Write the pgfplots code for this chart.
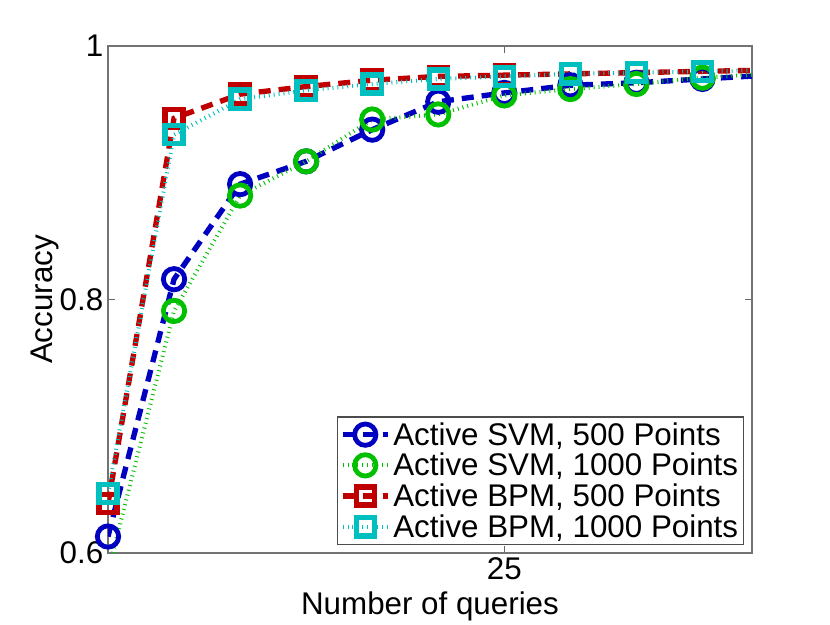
\documentclass[border=0pt]{standalone}
\usepackage{pgfplots}
\pgfplotsset{compat=1.18}
\usepackage{fontspec}
\setmainfont{Liberation Sans}
\definecolor{cB}{RGB}{0,0,192}
\definecolor{cG}{RGB}{0,192,0}
\definecolor{cR}{RGB}{192,0,0}
\definecolor{cC}{RGB}{0,191,191}
\begin{document}
\begin{tikzpicture}
\useasboundingbox (-81pt,-53.25pt) rectangle (541.5pt,414.75pt);
\begin{axis}[
  at={(0,0)}, anchor=south west,
  scale only axis, width=483pt, height=380.25pt,
  xmin=13, xmax=32.5, ymin=0.6, ymax=1,
  xtick={25}, ytick={0.6,0.8,1},
  yticklabels={0.6,0.8,1},
  tick align=inside, tick pos=both,
  major tick length=5.5pt,
  every tick/.style={black!60, line width=0.8pt},
  axis line style={black!55, line width=1pt},
  /pgf/number format/assume math mode=true,
  tick label style={font=\fontsize{23.5}{26}\selectfont},
  label style={font=\fontsize{23.5}{26}\selectfont},
  xlabel={Number of queries},
  ylabel={Accuracy},
  xlabel style={yshift=-2pt},
  ylabel style={yshift=-6pt},
  clip=true,
  legend style={at={(1,0)}, anchor=south east, xshift=-6pt, yshift=6pt,
    font=\fontsize{23.5}{26}\selectfont, draw=black!70, line width=0.8pt,
    inner xsep=2pt, inner ysep=2pt, row sep=0.5pt},
  legend cell align=left,
  legend image code/.code={
    \draw[#1] (0pt,0pt) -- (34pt,0pt);
    \draw[#1, solid] plot coordinates {(17pt,0pt)};
  },
]
\addplot[cB, line width=4pt, dash pattern=on 9pt off 6pt,
  mark=o, mark size=8pt, mark options={solid, line width=3.6pt}]
  coordinates {(13,0.613) (15,0.816) (17,0.891) (19,0.909) (21,0.934)
  (23,0.956) (25,0.963) (27,0.969) (29,0.971) (31,0.974) (33,0.977)};
\addlegendentry{Active SVM, 500 Points}
\addplot[cG, line width=3pt, dash pattern=on 0.7pt off 3pt,
  mark=o, mark size=8pt, mark options={solid, line width=3.6pt}]
  coordinates {(13,0.585) (15,0.791) (17,0.882) (19,0.909) (21,0.942)
  (23,0.946) (25,0.961) (27,0.966) (29,0.970) (31,0.975) (33,0.978)};
\addlegendentry{Active SVM, 1000 Points}
\addplot[cR, line width=4pt, dash pattern=on 9pt off 6pt,
  mark=square, mark size=6.8pt, mark options={solid, line width=4pt}]
  coordinates {(13,0.639) (15,0.943) (17,0.962) (19,0.968) (21,0.973)
  (23,0.976) (25,0.977) (27,0.978) (29,0.979) (31,0.980) (33,0.981)};
\addlegendentry{Active BPM, 500 Points}
\addplot[cC, line width=3pt, dash pattern=on 0.7pt off 3pt,
  mark=square, mark size=6.8pt, mark options={solid, line width=4pt}]
  coordinates {(13,0.647) (15,0.930) (17,0.958) (19,0.965) (21,0.970)
  (23,0.974) (25,0.976) (27,0.978) (29,0.979) (31,0.980) (33,0.981)};
\addlegendentry{Active BPM, 1000 Points}
\end{axis}
\end{tikzpicture}
\end{document}
